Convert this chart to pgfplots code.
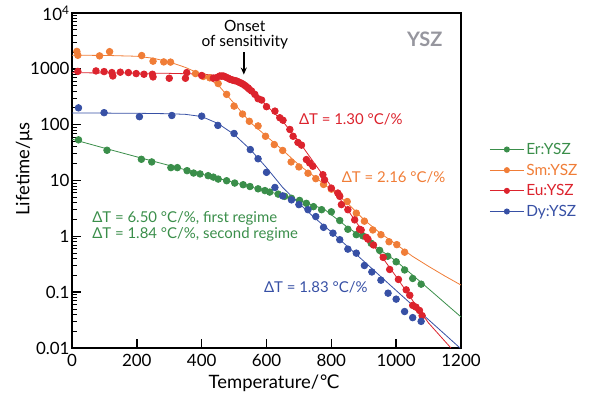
\documentclass[border=0pt]{standalone}
\usepackage{pgfplots}
\pgfplotsset{compat=1.18}
\usepackage{fontspec}
\setmainfont{Lato}
\newfontfamily\dejavu{DejaVu Sans}
\usetikzlibrary{arrows.meta}
\definecolor{erG}{RGB}{58,142,74}
\definecolor{smO}{RGB}{240,125,55}
\definecolor{euR}{RGB}{220,35,45}
\definecolor{dyB}{RGB}{55,80,165}
\definecolor{yszG}{RGB}{150,150,158}
\begin{document}
\begin{tikzpicture}
\path[use as bounding box] (0,0) rectangle (595bp,400bp);
\begin{axis}[
  at={(72bp,52bp)}, anchor=south west,
  scale only axis, width=389bp, height=335bp,
  xmin=0, xmax=1200, ymin=0.01, ymax=10000, ymode=log,
  xtick={0,200,400,600,800,1000,1200},
  xticklabels={0,200,400,600,800,1000,1200},
  ytick={0.01,0.1,1,10,100,1000,10000},
  yticklabels={0.01,0.1,1,10,100,1000,10\textsuperscript{4}},
  minor ytick={0.02,0.03,0.04,0.05,0.06,0.07,0.08,0.09,0.2,0.3,0.4,0.5,0.6,0.7,0.8,0.9,2,3,4,5,6,7,8,9,20,30,40,50,60,70,80,90,200,300,400,500,600,700,800,900,2000,3000,4000,5000,6000,7000,8000,9000},
  xtick pos=left, ytick pos=left, tick align=inside,
  major tick length=9bp, minor tick length=5bp,
  every major tick/.style={line width=1.6bp, black},
  every minor tick/.style={line width=0.8bp, black},
  axis line style={line width=1.3bp},
  /pgf/number format/assume math mode=true,
  tick label style={font=\fontsize{17}{19}\selectfont},
  yticklabel style={xshift=1bp},
  xticklabel style={yshift=-2.5bp},
  label style={font=\fontsize{18.5}{21}\selectfont},
  xlabel={Temperature/{\dejavu ℃}},
  ylabel={Lifetime/μs},
  xlabel style={at={(axis description cs:0.52,-0.1045)}, anchor=center},
  ylabel style={at={(axis description cs:-0.123,0.534)}, anchor=center},
  legend style={at={(1.065,0.5)}, anchor=west, draw=none, fill=none,
    font=\fontsize{15.5}{17}\selectfont, row sep=4bp, cells={anchor=west}},
  legend image code/.code={\draw[mark repeat=2,mark phase=2,#1] plot coordinates {(0bp,0bp) (17bp,0bp) (34bp,0bp)};},
  every axis plot/.append style={line width=0.8bp},
]
\addlegendimage{erG, mark=*, mark size=2.6bp, line width=0.8bp}
\addlegendentry{\textcolor{erG}{Er:YSZ}}
\addlegendimage{smO, mark=*, mark size=2.6bp, line width=0.8bp}
\addlegendentry{\textcolor{smO}{Sm:YSZ}}
\addlegendimage{euR, mark=*, mark size=2.6bp, line width=0.8bp}
\addlegendentry{\textcolor{euR}{Eu:YSZ}}
\addlegendimage{dyB, mark=*, mark size=2.6bp, line width=0.8bp}
\addlegendentry{\textcolor{dyB}{Dy:YSZ}}

% fitted lines
\addplot[erG, no marks, forget plot] coordinates {(0,55) (100,38) (200,26.5) (300,18.6) (400,13.0) (450,11.0) (500,9.2) (550,7.7) (600,6.5) (650,5.4) (700,4.4) (750,3.5) (780,3.0) (850,1.45) (900,0.92) (1000,0.36) (1100,0.115) (1200,0.036)};
\addplot[smO, no marks, forget plot] coordinates {(0,1750) (100,1740) (200,1680) (250,1550) (300,1330) (350,1060) (400,790) (450,520) (500,240) (550,110) (600,62) (650,35) (700,19) (750,11.5) (800,6.8) (850,3.9) (900,2.0) (950,1.15) (1000,0.72) (1050,0.44) (1100,0.29) (1150,0.195) (1200,0.134)};
\addplot[euR, no marks, forget plot] coordinates {(0,850) (200,840) (300,830) (380,810) (430,780) (470,740) (500,660) (530,540) (560,380) (600,220) (650,115) (700,50) (750,19.5) (800,7.8) (850,3.0) (900,1.15) (950,0.48) (1000,0.19) (1050,0.072) (1100,0.028) (1169,0.01)};
\addplot[dyB, no marks, forget plot] coordinates {(0,162) (200,160) (300,157) (350,153) (400,140) (450,105) (500,67) (550,36) (600,17) (650,7.5) (700,3.9) (750,2.1) (800,1.2) (850,0.656) (900,0.359) (950,0.196) (1000,0.107) (1050,0.0587) (1100,0.0321) (1150,0.0176) (1197,0.01)};

% data points
\addplot[only marks, mark=*, mark size=3.3bp, erG, forget plot] table {
20 53.5
108 34.8
214 24.0
246 21.5
305 17.0
325 17.0
355 15.0
375 13.6
395 13.1
420 12.2
436 11.5
451 10.6
477 9.9
502 9.0
528 8.4
549 7.8
574 7.1
595 6.6
610 6.2
636 5.7
656 5.2
677 4.8
702 4.4
723 3.9
745 3.4
770 3.0
800 2.75
826 1.92
851 1.34
877 1.07
897 1.02
923 0.75
949 0.56
974 0.44
1000 0.35
1026 0.25
1051 0.176
1077 0.139
};
\addplot[only marks, mark=*, mark size=3.3bp, smO, forget plot] table {
15 2050
18 1750
85 1706
116 2030
215 1730
250 1370
283 1330
304 1320
381 822
405 730
425 690
451 545
477 349
500 215
526 155
547 115
574 95
597 62
624 44
650 34.5
676 21.5
700 17.5
728 13.5
752 10.8
776 8.5
800 7.0
825 5.4
849 4.2
877 2.6
902 1.87
928 1.3
953 1.07
978 0.80
1002 0.71
1026 0.52
};
\addplot[only marks, mark=*, mark size=3.3bp, euR, forget plot] table {
18 900
74 917
99 893
123 857
126 745
149 870
174 857
198 822
222 800
248 800
250 716
300 678
350 678
354 857
400 760
436 680
446 697
456 745
461 740
466 745
471 730
477 697
482 680
487 650
492 640
497 624
502 615
508 605
513 585
518 567
523 550
528 529
533 505
538 481
543 455
547 430
554 401
564 349
574 292
585 276
600 210
626 175
641 133
651 120
672 82
682 62
697 48
708 43
723 23.7
733 20.6
743 18
774 12.7
779 10.3
800 7.3
820 5.96
826 5.2
831 3.7
851 3.0
872 1.97
887 1.34
892 1.30
908 0.96
913 0.89
930 0.70
960 0.42
980 0.255
1007 0.169
1031 0.11
1042 0.088
1051 0.058
1061 0.054
1072 0.047
1080 0.038
};
\addplot[only marks, mark=*, mark size=3.3bp, dyB, forget plot] table {
20 200
99 164
208 139
308 146
400 142
450 97
500 69.5
550 35.8
574 24.5
600 14
626 7.5
650 5.3
677 4.5
700 3.7
728 3.0
752 2.26
776 1.45
805 1.14
826 0.87
851 0.59
877 0.50
902 0.30
925 0.23
953 0.164
975 0.096
1000 0.075
1026 0.045
1051 0.035
1077 0.030
};

% annotations
\node[font=\fontsize{15.5}{17}\selectfont, align=center, inner sep=0pt] at (axis cs:533,4100) {Onset\\[-2pt]of sensitivity};
\draw[-{Stealth[length=7bp,width=6bp]}, line width=1.8bp] (axis cs:530,2000) -- (axis cs:530,790);
\node[font=\fontsize{20}{22}\selectfont\bfseries, text=yszG] at (axis cs:1088,3400) {YSZ};
\node[font=\fontsize{15}{17}\selectfont, text=euR] at (axis cs:860,124) {ΔT = 1.30 °C/\%};
\node[font=\fontsize{15}{17}\selectfont, text=smO] at (axis cs:992,11.2) {ΔT = 2.16 °C/\%};
\node[font=\fontsize{15}{17}\selectfont, text=erG, anchor=west, align=left, inner sep=0pt] at (axis cs:62,1.5) {ΔT = 6.50 °C/\%, first regime\\[-1pt]ΔT = 1.84 °C/\%, second regime};
\node[font=\fontsize{15}{17}\selectfont, text=dyB] at (axis cs:752,0.123) {ΔT = 1.83 °C/\%};
\end{axis}
\end{tikzpicture}
\end{document}
